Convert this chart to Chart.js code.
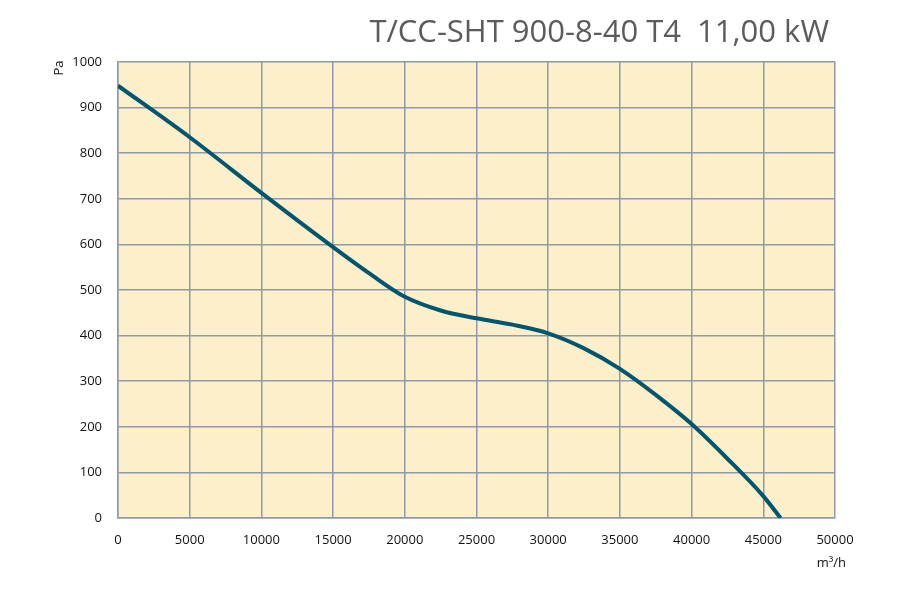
<!DOCTYPE html>
<html lang="en">
<head>
    <meta charset="UTF-8">
    <title>T/CC-SHT 900-8-40 T4</title>
    <script src="https://cdn.jsdelivr.net/npm/chart.js"></script>
    <style>
        body {
            margin: 0;
            background-color: #fff;
        }
        #wrap {
            width: 900px;
            height: 600px;
        }
    </style>
</head>
<body>
    <div id="wrap"><canvas id="fanChart"></canvas></div>

    <script>
        // air flow, m3/h
        var flow = [0, 5000, 10000, 15000, 17500, 20000, 22500, 25000, 27500, 30000, 32500, 35000, 37500, 40000, 42500, 45000, 46200];
        // static pressure, Pa
        var pressure = [948, 835, 713, 594, 537, 485, 455, 438, 424, 405, 372, 327, 270, 206, 130, 48, 0];

        var xTicks = [0, 5000, 10000, 15000, 20000, 25000, 30000, 35000, 40000, 45000, 50000];
        var yTicks = [0, 100, 200, 300, 400, 500, 600, 700, 800, 900, 1000];

        var titleText = 'T/CC-SHT 900-8-40 T4  11,00 kW';

        var points = flow.map(function (f, i) { return { x: f, y: pressure[i] }; });

        var decor = {
            id: 'decor',
            beforeDraw: function (chart) {
                var ctx = chart.ctx, a = chart.chartArea;
                ctx.save();
                ctx.fillStyle = '#fdefc9';
                ctx.fillRect(a.left, a.top, a.right - a.left, a.bottom - a.top);
                ctx.restore();
            },
            afterDraw: function (chart) {
                var ctx = chart.ctx;
                ctx.save();
                ctx.fillStyle = '#5a5b5d';
                ctx.font = '31px "Open Sans", sans-serif';
                ctx.textAlign = 'right';
                ctx.textBaseline = 'alphabetic';
                ctx.fillText(titleText, 829, 42);

                ctx.fillStyle = '#111';
                ctx.font = '13px "Open Sans", sans-serif';
                ctx.fillText('m³/h', 846, 567);

                ctx.translate(63, 68);
                ctx.rotate(-Math.PI / 2);
                ctx.textAlign = 'center';
                ctx.fillText('Pa', 0, 0);
                ctx.restore();
            }
        };

        new Chart(document.getElementById('fanChart'), {
            type: 'scatter',
            data: {
                datasets: [{
                    data: points,
                    showLine: true,
                    borderColor: '#00566f',
                    borderWidth: 4,
                    pointRadius: 0,
                    cubicInterpolationMode: 'monotone',
                    fill: false
                }]
            },
            options: {
                responsive: true,
                maintainAspectRatio: false,
                animation: false,
                layout: { padding: { left: 20, right: 65, top: 62, bottom: 22 } },
                plugins: { legend: { display: false }, tooltip: { enabled: false } },
                scales: {
                    x: {
                        type: 'linear',
                        min: 0,
                        max: 50000,
                        afterBuildTicks: function (s) { s.ticks = xTicks.map(function (v) { return { value: v }; }); },
                        afterFit: function (s) { s.height = 60; },
                        ticks: {
                            color: '#111',
                            font: { family: '"Open Sans", sans-serif', size: 13 },
                            padding: 14,
                            maxRotation: 0,
                            callback: function (v) { return String(v); }
                        },
                        grid: { color: '#8e99ad', lineWidth: 1.5, drawTicks: false },
                        border: { color: '#8e99ad', width: 1.5 }
                    },
                    y: {
                        min: 0,
                        max: 1000,
                        afterBuildTicks: function (s) { s.ticks = yTicks.map(function (v) { return { value: v }; }); },
                        afterFit: function (s) { s.width = 98; },
                        ticks: {
                            color: '#111',
                            font: { family: '"Open Sans", sans-serif', size: 13 },
                            padding: 16,
                            callback: function (v) { return String(v); }
                        },
                        grid: { color: '#8e99ad', lineWidth: 1.5, drawTicks: false },
                        border: { color: '#8e99ad', width: 1.5 }
                    }
                }
            },
            plugins: [decor]
        });
    </script>
</body>
</html>
